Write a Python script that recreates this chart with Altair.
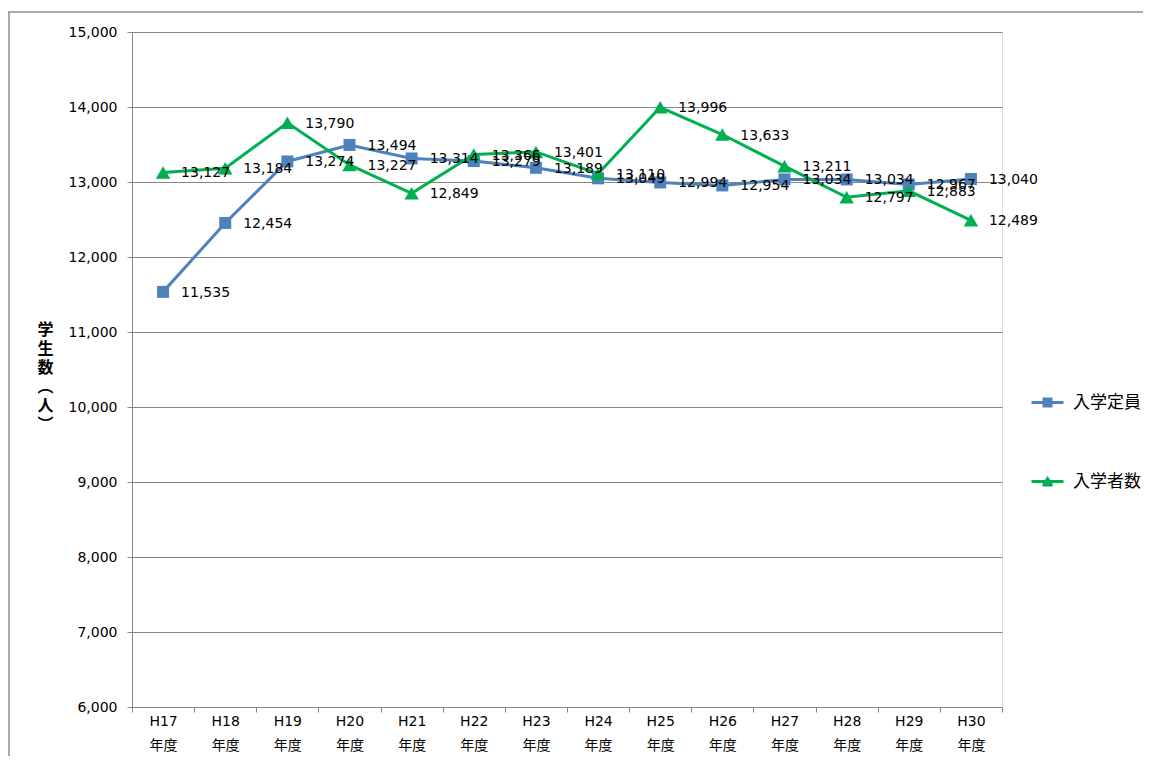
import altair as alt
import pandas as pd

years = ["H17", "H18", "H19", "H20", "H21", "H22", "H23", "H24", "H25", "H26", "H27", "H28", "H29", "H30"]
teiin = [11535, 12454, 13274, 13494, 13314, 13279, 13189, 13049, 12994, 12954, 13034, 13034, 12967, 13040]
nyugaku = [13127, 13184, 13790, 13227, 12849, 13366, 13401, 13110, 13996, 13633, 13211, 12797, 12883, 12489]
series_names = ["入学定員", "入学者数"]
colors = ["#4F81BD", "#00B050"]
y_ticks = [6000, 7000, 8000, 9000, 10000, 11000, 12000, 13000, 14000, 15000]

rows = []
for i, y in enumerate(years):
    rows.append({"year": y, "series": series_names[0], "value": teiin[i]})
for i, y in enumerate(years):
    rows.append({"year": y, "series": series_names[1], "value": nyugaku[i]})
df = pd.DataFrame(rows)

NUM_FONT = "DejaVu Sans"
CJK_FONT = "Noto Sans CJK JP"


def legend_path(rows_spec):
    # horizontal line through the symbol plus stacked short strokes forming the marker (px, scaled by 1/16)
    s = 16.0
    parts = ["M-1,0H1"]
    for yy, hw in rows_spec:
        parts.append(f"M{-hw / s:.4f},{yy / s:.4f}H{hw / s:.4f}")
    return "".join(parts)


square_path = legend_path([(-3.5, 5), (-1, 5), (1.5, 5), (3.5, 5)])
triangle_path = legend_path([(-3.5, 0.9), (-2, 1.8), (-0.5, 2.7), (1, 3.6), (2.5, 4.5), (3.5, 5.1)])

x_enc = alt.X(
    "year:N",
    sort=years,
    scale=alt.Scale(type="band", paddingInner=0, paddingOuter=0),
    axis=alt.Axis(
        title=None,
        labelAngle=0,
        labelExpr="datum.label ? [datum.label, '年度'] : ''",
        labelFont=NUM_FONT + ", " + CJK_FONT,
        labelFontSize=14,
        labelLineHeight=24,
        labelColor="#000000",
        labelPadding=2,
        tickBand="extent",
        tickSize=5,
        tickColor="#868686",
        domainColor="#868686",
        grid=False,
    ),
)
y_enc = alt.Y(
    "value:Q",
    scale=alt.Scale(domain=[6000, 15000], nice=False, zero=False),
    axis=alt.Axis(
        values=y_ticks,
        format=",d",
        title=["学", "生", "数", "︵", "人", "︶"],
        titleAngle=0,
        titleFont=CJK_FONT,
        titleFontSize=16,
        titleFontWeight="bold",
        titleLineHeight=19,
        titleX=-87,
        titleY=297,
        titleAlign="center",
        titleBaseline="middle",
        titleColor="#000000",
        labelFont=NUM_FONT,
        labelFontSize=14,
        labelColor="#000000",
        labelPadding=10,
        tickSize=5,
        tickColor="#868686",
        domainColor="#868686",
        gridColor="#868686",
        gridWidth=1,
    ),
)
color_scale = alt.Scale(domain=series_names, range=colors)
legend_def = alt.Legend(
    title=None,
    orient="none",
    legendX=898,
    legendY=353,
    direction="vertical",
    padding=0,
    symbolSize=1024,
    symbolStrokeWidth=3,
    symbolOpacity=1,
    rowPadding=51,
    labelOffset=8,
    labelFont=CJK_FONT,
    labelFontSize=17,
    labelColor="#000000",
)
color_enc = alt.Color("series:N", scale=color_scale, legend=legend_def)

base = alt.Chart(df)

legend_layer = base.transform_filter("false").mark_point(filled=False, strokeWidth=3, opacity=1).encode(
    x=x_enc,
    y=y_enc,
    color=color_enc,
    shape=alt.Shape("series:N", scale=alt.Scale(domain=series_names, range=[square_path, triangle_path]), legend=legend_def),
)

lines = base.mark_line(strokeWidth=3).encode(x=x_enc, y=y_enc, color=color_enc, detail="series:N")
pts_teiin = base.transform_filter(alt.datum.series == series_names[0]).mark_point(
    filled=True, opacity=1, shape="square", size=144
).encode(x=x_enc, y=y_enc, color=color_enc)
pts_nyugaku = base.transform_filter(alt.datum.series == series_names[1]).mark_point(
    filled=True, opacity=1, shape="triangle-up", size=210
).encode(x=x_enc, y=y_enc, color=color_enc)
labels = base.mark_text(align="left", baseline="middle", dx=18, dy=1, font=NUM_FONT, fontSize=14, color="#000000").encode(
    x=x_enc, y=y_enc, text=alt.Text("value:Q", format=",d")
)

frame_data = alt.Data(values=[{"k": 1}])
frame_top = alt.Chart(frame_data).mark_rule(color="#8c8c8c", strokeWidth=1.5).encode(
    x=alt.value(-124), x2=alt.value(1030), y=alt.value(-20)
)
frame_left = alt.Chart(frame_data).mark_rule(color="#8c8c8c", strokeWidth=1.5).encode(
    x=alt.value(-123), y=alt.value(-20), y2=alt.value(760)
)

chart = alt.layer(frame_top, frame_left, lines, pts_teiin, pts_nyugaku, labels, legend_layer).properties(
    width=870,
    height=675,
    autosize="none",
    padding={"left": 124, "top": 24, "right": 141, "bottom": 49},
).configure_view(stroke=None).configure(background="#ffffff")

chart.save("out.html", embed_options={"renderer": "svg", "actions": False})
